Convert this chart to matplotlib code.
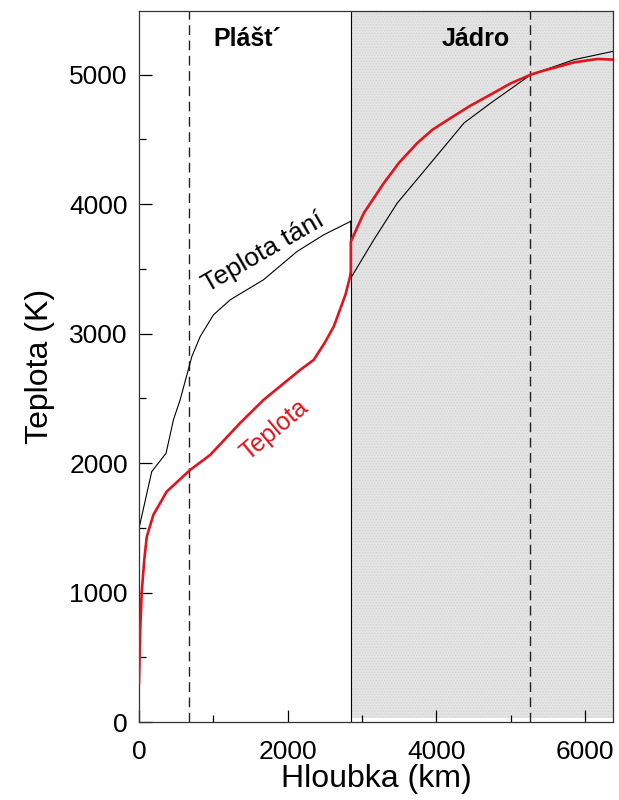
import matplotlib
matplotlib.use("Agg")
import matplotlib.pyplot as plt
from matplotlib.ticker import MultipleLocator

plt.rcParams["font.family"] = ["Liberation Sans", "DejaVu Sans"]
plt.rcParams["hatch.linewidth"] = 0.6

# Temperature profile (red)
depth_T = [0, 15, 36, 70, 104, 193, 373, 688, 958, 1362, 1676, 2170, 2351,
           2500, 2621, 2778, 2840, 2850, 2850, 3025, 3295, 3500, 3745, 3950,
           4194, 4450, 4734, 5000, 5273, 5408, 5857, 6172, 6380]
temp_T = [300, 700, 1000, 1250, 1430, 1600, 1780, 1947, 2063, 2310, 2488, 2720,
          2797, 2930, 3055, 3300, 3440, 3480, 3710, 3931, 4163, 4320, 4472,
          4575, 4665, 4757, 4847, 4932, 5000, 5025, 5095, 5121, 5116]

# Melting temperature (black)
depth_M = [0, 171, 364, 463, 553, 711, 823, 1002, 1227, 1676, 2126, 2486, 2845,
           2850, 2850, 3160, 3475, 3925, 4374, 4734, 5273, 5857, 6380]
temp_M = [1497, 1934, 2076, 2334, 2488, 2823, 2977, 3145, 3261, 3416, 3634,
          3763, 3866, 3870, 3429, 3725, 4008, 4317, 4627, 4781, 5000, 5116, 5180]

# Boundaries (km)
cmb = 2850
dashed_depths = [670, 5260]
x_max = 6385
y_max = 5490

fig = plt.figure(figsize=(6.19, 8), dpi=100)
ax = fig.add_axes([0.2246, 0.0975, 0.7665, 0.8885])

# shaded core region
ax.axvspan(cmb, x_max, ymin=0.005, ymax=1, facecolor="#e4e4e4",
           edgecolor="#d2d2d2", hatch="......", linewidth=0, zorder=0)
ax.axvline(cmb, color="black", linewidth=0.8, zorder=1)
for d in dashed_depths:
    ax.axvline(d, color="#222222", linewidth=1.0, dashes=(7, 4), zorder=1)

ax.plot(depth_M, temp_M, color="black", linewidth=0.8, zorder=2)
ax.plot(depth_T, temp_T, color="#e0141c", linewidth=1.9, zorder=3)

ax.text(1665, 3625, "Teplota tání", rotation=30, fontsize=19,
        ha="center", va="center", rotation_mode="anchor")
ax.text(1821, 2257, "Teplota", rotation=40, fontsize=18, color="#e0141c",
        ha="center", va="center", rotation_mode="anchor")
ax.text(1456, 5219, "Plášt´", fontsize=18, fontweight="bold",
        ha="center", va="baseline")
ax.text(4531, 5219, "Jádro", fontsize=18, fontweight="bold",
        ha="center", va="baseline")

ax.set_xlim(0, x_max)
ax.set_ylim(0, y_max)
ax.xaxis.set_major_locator(MultipleLocator(2000))
ax.xaxis.set_minor_locator(MultipleLocator(1000))
ax.yaxis.set_major_locator(MultipleLocator(1000))
ax.yaxis.set_minor_locator(MultipleLocator(500))
ax.tick_params(which="both", direction="in", top=False, right=False,
               width=0.9, labelsize=19, pad=8)
ax.tick_params(axis="x", which="major", pad=13)
ax.tick_params(which="major", length=9)
ax.tick_params(which="minor", length=5)
for s in ax.spines.values():
    s.set_linewidth(0.9)
    s.set_color("#333333")

ax.set_xlabel("Hloubka (km)", fontsize=23, labelpad=0)
ax.set_ylabel("Teplota (K)", fontsize=23, labelpad=10)

fig.savefig("out.png", dpi=100)
